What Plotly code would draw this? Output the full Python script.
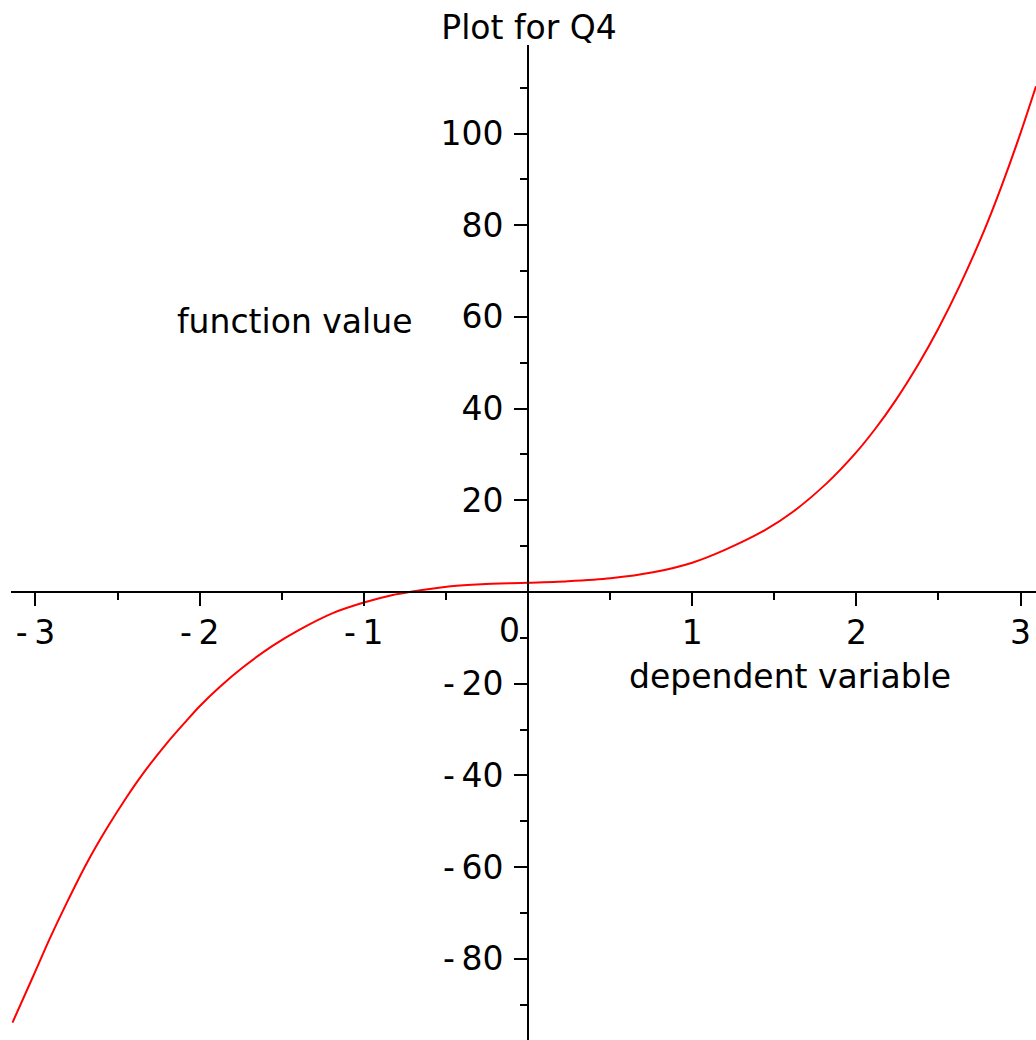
import plotly.graph_objects as go

# Data
x_vals = [-3.140, -3.014, -2.913, -2.811, -2.690, -2.568, -2.446, -2.345, -2.203, -2.081,
          -2.0, -1.878, -1.736, -1.554, -1.391, -1.189, -1.0, -0.824, -0.722, -0.471,
          -0.283, 0.0, 0.243, 0.503, 0.762, 1.0, 1.199, 1.448, 1.614, 1.822,
          1.988, 2.113, 2.238, 2.383, 2.497, 2.633, 2.778, 2.882, 2.996, 3.094]
y_vals = [-93.9, -83.8, -75.6, -67.9, -59.3, -51.7, -44.8, -39.6, -33.1, -28.1,
          -24.9, -20.7, -16.4, -11.7, -8.2, -4.6, -2.3, -0.65, 0.0, 1.25,
          1.7, 2.0, 2.35, 3.0, 4.3, 6.4, 9.2, 13.6, 17.5, 23.8,
          30.0, 35.5, 41.75, 50.0, 57.3, 67.1, 78.8, 88.3, 99.7, 110.3]

x_ticks = [-3, -2, -1, 1, 2, 3]
y_ticks = [-80, -60, -40, -20, 20, 40, 60, 80, 100]

title_text = "Plot for Q4"
x_label = "dependent variable"
y_label = "function value"

x_range = [-3.149, 3.094]
y_range = [-97.7, 119.3]

FONT = "DejaVu Sans"
FS = 33
W, H = 1036, 1040


def fmt(v):
    return ("-\u2009" + str(abs(v))) if v < 0 else str(v)


fig = go.Figure()
fig.add_trace(go.Scatter(x=x_vals, y=y_vals, mode="lines",
                         line=dict(color="#ff0000", width=2, shape="spline", smoothing=0.8),
                         hoverinfo="skip", showlegend=False))

xpos = (0 - y_range[0]) / (y_range[1] - y_range[0])
ypos = (0 - x_range[0]) / (x_range[1] - x_range[0])

fig.update_layout(
    width=W, height=H,
    margin=dict(l=11, r=0, t=45, b=0, pad=0),
    paper_bgcolor="white", plot_bgcolor="white",
    font=dict(family=FONT, size=FS, color="black"),
    showlegend=False,
    hovermode=False,
    title=dict(text=title_text, x=529 / W, xanchor="center", xref="container",
               y=1 - 27 / H, yanchor="middle", yref="container",
               font=dict(family=FONT, size=FS, color="black")),
    xaxis=dict(range=x_range, anchor="free", position=xpos, side="bottom",
               showgrid=False, zeroline=False, showline=True, linecolor="black", linewidth=2,
               ticks="outside", ticklen=13, tickwidth=2, tickcolor="black",
               tickvals=x_ticks, ticktext=[fmt(v) for v in x_ticks],
               ticklabelstandoff=-2,
               minor=dict(dtick=0.5, tick0=0, ticks="outside", ticklen=7, tickwidth=2, tickcolor="black"),
               tickfont=dict(family=FONT, size=FS, color="black"), fixedrange=True),
    yaxis=dict(range=y_range, anchor="free", position=ypos, side="left",
               showgrid=False, zeroline=False, showline=True, linecolor="black", linewidth=2,
               ticks="outside", ticklen=13, tickwidth=2, tickcolor="black",
               tickvals=y_ticks, ticktext=[fmt(v) for v in y_ticks],
               ticklabelstandoff=4,
               minor=dict(dtick=10, tick0=0, ticks="outside", ticklen=7, tickwidth=2, tickcolor="black"),
               tickfont=dict(family=FONT, size=FS, color="black"), fixedrange=True),
    annotations=[
        dict(text=y_label, x=-0.694, y=58.9, xref="x", yref="y", xanchor="right", yanchor="middle",
             showarrow=False, font=dict(family=FONT, size=FS, color="black")),
        dict(text=x_label, x=0.603, y=-18.5, xref="x", yref="y", xanchor="left", yanchor="middle",
             showarrow=False, font=dict(family=FONT, size=FS, color="black")),
        dict(text="0", x=0, y=0, xref="x", yref="y", xanchor="right", yanchor="middle",
             xshift=-6, yshift=-38, showarrow=False, font=dict(family=FONT, size=FS, color="black")),
    ],
)

# Remove the default page margin so the figure sits at the window's top-left corner.
fig.write_html("out.html",
               config={"displayModeBar": False, "staticPlot": True},
               post_script="document.body.style.margin='0';document.body.style.overflow='hidden';")
